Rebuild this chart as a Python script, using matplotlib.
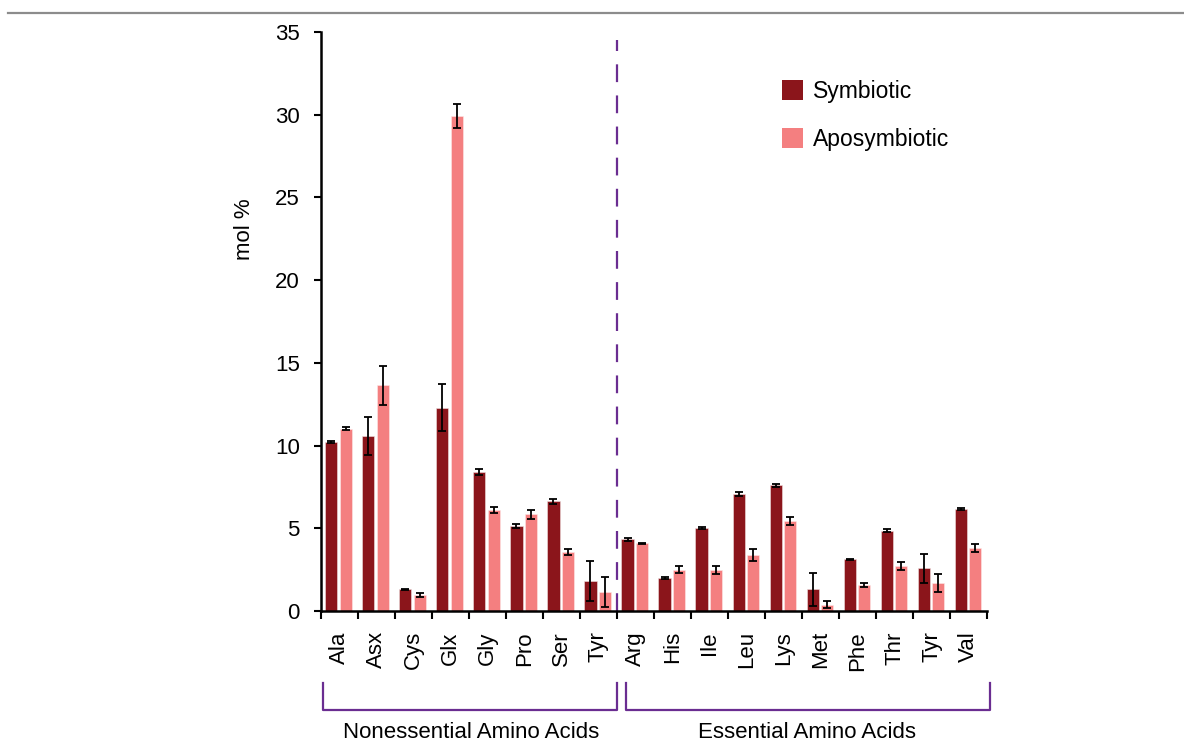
import matplotlib
matplotlib.use("Agg")
import matplotlib.pyplot as plt
from matplotlib.lines import Line2D
from matplotlib.patches import Patch
import numpy as np

plt.rcParams['font.family'] = ['Liberation Sans', 'DejaVu Sans']

categories = ["Ala", "Asx", "Cys", "Glx", "Gly", "Pro", "Ser", "Tyr",
              "Arg", "His", "Ile", "Leu", "Lys", "Met", "Phe", "Thr", "Tyr", "Val"]
symbiotic = [10.22, 10.56, 1.31, 12.29, 8.40, 5.14, 6.63, 1.81,
             4.33, 2.01, 5.00, 7.07, 7.60, 1.31, 3.12, 4.84, 2.58, 6.15]
symbiotic_err = [0.06, 1.14, 0.05, 1.43, 0.19, 0.10, 0.15, 1.20,
                 0.10, 0.05, 0.05, 0.10, 0.09, 1.00, 0.05, 0.09, 0.88, 0.05]
aposymbiotic = [11.02, 13.64, 0.97, 29.93, 6.09, 5.86, 3.55, 1.13,
                4.09, 2.50, 2.48, 3.39, 5.42, 0.38, 1.57, 2.72, 1.69, 3.79]
aposymbiotic_err = [0.08, 1.18, 0.12, 0.73, 0.18, 0.27, 0.19, 0.90,
                    0.05, 0.22, 0.23, 0.34, 0.24, 0.20, 0.12, 0.24, 0.57, 0.25]
n_nonessential = 8
group_labels = ["Nonessential Amino Acids", "Essential Amino Acids"]
series_labels = ["Symbiotic", "Aposymbiotic"]
yticks = [0, 5, 10, 15, 20, 25, 30, 35]

c_sym = "#8B151B"
c_apo = "#F47F80"
c_purple = "#6A2D91"

W, H = 1184, 744
fig = plt.figure(figsize=(W / 100, H / 100), dpi=100)
ax = fig.add_axes([320.7 / W, 1 - 611 / H, (987.3 - 320.7) / W, (611 - 32) / H])

x = np.arange(len(categories))
bw = 0.33
ekw = dict(ecolor="black", elinewidth=1.3, capsize=3.2, capthick=1.3)
ax.bar(x + 0.285, symbiotic, width=bw, color=c_sym, edgecolor="#f0e0e0",
       linewidth=0.4, yerr=symbiotic_err, error_kw=ekw, label=series_labels[0], zorder=2)
ax.bar(x + 0.675, aposymbiotic, width=bw, color=c_apo, edgecolor="#fde8e8",
       linewidth=0.4, yerr=aposymbiotic_err, error_kw=ekw, label=series_labels[1], zorder=2)

ax.set_xlim(0, len(categories))
ax.set_ylim(0, 35)
ax.set_yticks(yticks)
ax.set_xticks(np.arange(len(categories) + 1))
ax.set_xticklabels([])
ax.set_xticks(x + 0.5, minor=True)
ax.set_xticklabels(categories, minor=True, rotation=90, fontsize=16)
ax.tick_params(axis="x", which="minor", length=0, pad=14.5)
ax.tick_params(axis="x", which="major", length=6, width=1.5, direction="out")
ax.tick_params(axis="y", length=5, width=1.5, direction="out", labelsize=16, pad=10)
for s in ["top", "right"]:
    ax.spines[s].set_visible(False)
for s in ["left", "bottom"]:
    ax.spines[s].set_linewidth(1.8)

ax.axvline(n_nonessential, ymin=0, ymax=0.987, color=c_purple, lw=1.6,
           dashes=(8.0, 6.0), zorder=1)

fig.text(245 / W, 1 - 229 / H, "mol %", rotation=90, ha="center", va="center", fontsize=16)

# legend
handles = [Patch(facecolor=c_sym), Patch(facecolor=c_apo)]
leg = ax.legend(handles, series_labels, loc="upper left",
                bbox_to_anchor=(761 / W, 1 - 59 / H), bbox_transform=fig.transFigure,
                frameon=False, fontsize=16.5, handlelength=0.95, handleheight=1.0,
                labelspacing=1.1, handletextpad=0.4)

# group brackets
def bracket(x0, x1, ytop=683, ybot=710):
    xs = [x0 / W, x0 / W, x1 / W, x1 / W]
    ys = [1 - ytop / H, 1 - ybot / H, 1 - ybot / H, 1 - ytop / H]
    fig.add_artist(Line2D(xs, ys, color=c_purple, lw=1.6))

bracket(323, 617)
bracket(626, 990)
fig.text(471 / W, 1 - 733 / H, group_labels[0], ha="center", va="center", fontsize=16)
fig.text(807 / W, 1 - 733 / H, group_labels[1], ha="center", va="center", fontsize=16)

# top gray rule
fig.add_artist(Line2D([8 / W, 1.0], [1 - 12.5 / H, 1 - 12.5 / H], color="#8c8c8c", lw=1.6))

fig.savefig("out.png", dpi=100)
